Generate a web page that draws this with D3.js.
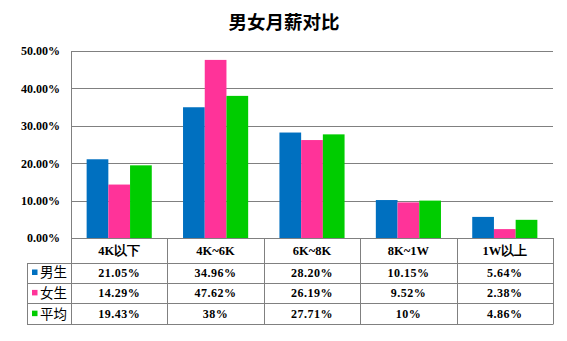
<!DOCTYPE html>
<html>
<head>
<meta charset="utf-8">
<script src="https://cdn.jsdelivr.net/npm/d3@7"></script>
<style>
  html, body { margin: 0; padding: 0; background: #fff; }
  svg { display: block; }
</style>
</head>
<body>
<svg id="chart" width="567" height="341"></svg>
<script>
// Salary bands and the share of each group in every band (percent, as printed)
const categories = ["4K以下", "4K~6K", "6K~8K", "8K~1W", "1W以上"];
const seriesNames = ["男生", "女生", "平均"];
const maleValues   = ["21.05", "34.96", "28.20", "10.15", "5.64"];
const femaleValues = ["14.29", "47.62", "26.19", "9.52", "2.38"];
const avgValues    = ["19.43", "38", "27.71", "10", "4.86"];
const yTicks = [0, 0.1, 0.2, 0.3, 0.4, 0.5];
const colors = ["#0070C0", "#FF3399", "#00CC00"];

const seriesValues = [maleValues, femaleValues, avgValues];

const svg = d3.select("#chart");
const serif = "'Liberation Serif', 'Times New Roman', serif";
const cjk = "'Noto Sans CJK SC', sans-serif";
const grid = "#808080";

const plotLeft = 71, plotRight = 553, plotTop = 51, plotBottom = 238;
const tableRows = [238, 262.5, 282.5, 303.3, 324];
const legendLeft = 27;

// Title
svg.append("text")
  .attr("x", 284).attr("y", 29)
  .attr("text-anchor", "middle")
  .attr("font-family", cjk)
  .attr("font-weight", "bold")
  .attr("font-size", 18.5)
  .attr("fill", "#000")
  .text("男女月薪对比");

// Scales
const x = d3.scaleBand().domain(categories).range([plotLeft, plotRight]).paddingInner(0).paddingOuter(0);
const x1 = d3.scaleBand().domain(seriesNames).range([0, x.bandwidth()]).paddingInner(0).paddingOuter(0.72);
const y = d3.scaleLinear().domain([0, 0.5]).range([plotBottom, plotTop]);

// Gridlines
svg.append("g").selectAll("line").data(yTicks).join("line")
  .attr("x1", plotLeft).attr("x2", plotRight)
  .attr("y1", d => Math.round(y(d)) + 0.5).attr("y2", d => Math.round(y(d)) + 0.5)
  .attr("stroke", grid).attr("stroke-width", 1);

// Y axis labels
const yAxis = d3.axisLeft(y).tickValues(yTicks).tickFormat(d3.format(".2%")).tickSize(0).tickPadding(11);
const gy = svg.append("g").attr("transform", `translate(${plotLeft},0)`).call(yAxis);
gy.select(".domain").remove();
gy.selectAll("text")
  .attr("font-family", serif).attr("font-weight", "bold").attr("font-size", 12).attr("fill", "#000");

// Bars
const groups = svg.append("g").selectAll("g").data(categories).join("g")
  .attr("transform", d => `translate(${x(d)},0)`);
groups.selectAll("rect")
  .data((c, i) => seriesNames.map((s, k) => ({ s, k, v: +seriesValues[k][i] / 100 })))
  .join("rect")
  .attr("x", d => x1(d.s))
  .attr("width", x1.bandwidth())
  .attr("y", d => y(d.v))
  .attr("height", d => y(0) - y(d.v))
  .attr("fill", d => colors[d.k]);

// Data table under the axis
const tg = svg.append("g");
// horizontal rules
tg.append("line").attr("x1", plotLeft).attr("x2", plotRight)
  .attr("y1", tableRows[0] + 0.5).attr("y2", tableRows[0] + 0.5).attr("stroke", grid);
tableRows.slice(1).forEach(r => {
  tg.append("line").attr("x1", legendLeft).attr("x2", plotRight)
    .attr("y1", Math.round(r) + 0.5).attr("y2", Math.round(r) + 0.5).attr("stroke", grid);
});
// vertical rules
tg.append("line").attr("x1", plotLeft + 0.5).attr("x2", plotLeft + 0.5)
  .attr("y1", plotTop).attr("y2", tableRows[4] + 0.5).attr("stroke", grid);
tg.append("line").attr("x1", legendLeft + 0.5).attr("x2", legendLeft + 0.5)
  .attr("y1", Math.round(tableRows[1]) + 0.5).attr("y2", tableRows[4] + 0.5).attr("stroke", grid);
categories.forEach(c => {
  const xr = Math.round(x(c) + x.bandwidth()) + 0.5;
  tg.append("line").attr("x1", xr).attr("x2", xr)
    .attr("y1", tableRows[0]).attr("y2", tableRows[4] + 0.5).attr("stroke", grid);
});

// header labels
tg.selectAll("text.cat").data(categories).join("text")
  .attr("class", "cat")
  .attr("x", d => x(d) + x.bandwidth() / 2)
  .attr("y", (tableRows[0] + tableRows[1]) / 2)
  .attr("dy", "0.35em")
  .attr("text-anchor", "middle")
  .attr("font-family", serif).attr("font-weight", "bold").attr("font-size", 12.5)
  .attr("fill", "#000")
  .text(d => d);

// rows
seriesNames.forEach((s, k) => {
  const cy = (tableRows[k + 1] + tableRows[k + 2]) / 2;
  tg.append("rect")
    .attr("x", 32).attr("y", cy - 3)
    .attr("width", 5.5).attr("height", 5.5)
    .attr("fill", colors[k]);
  tg.append("text")
    .attr("x", 40).attr("y", cy).attr("dy", "0.36em")
    .attr("font-family", cjk).attr("font-size", 13.5).attr("fill", "#000")
    .text(s);
  tg.selectAll(null).data(seriesValues[k]).join("text")
    .attr("x", (d, i) => x(categories[i]) + x.bandwidth() / 2)
    .attr("y", cy).attr("dy", "0.35em")
    .attr("text-anchor", "middle")
    .attr("font-family", serif).attr("font-weight", "bold").attr("font-size", 12)
    .attr("letter-spacing", 0.5)
    .attr("fill", "#000")
    .text(d => d + "%");
});
</script>
</body>
</html>
